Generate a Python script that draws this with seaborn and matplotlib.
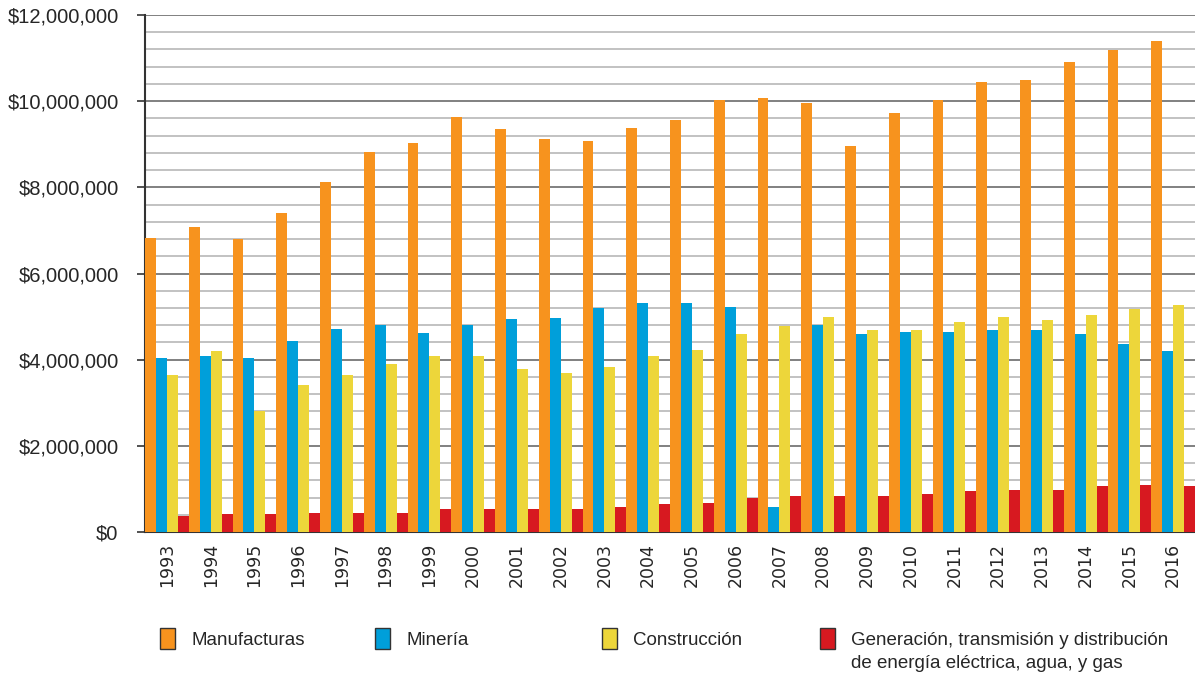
import matplotlib
matplotlib.use("Agg")
import matplotlib.pyplot as plt
import matplotlib.ticker as mticker
from matplotlib.patches import Patch
import seaborn as sns
import pandas as pd

years = [str(y) for y in range(1993, 2017)]
sectors = ["Manufacturas", "Minería", "Construcción",
           "Generación, transmisión y distribución"]
sector_line2 = "de energía eléctrica, agua, y gas"
manufacturas = [6.83, 7.07, 6.79, 7.40, 8.12, 8.82, 9.02, 9.64, 9.35, 9.13, 9.07, 9.37,
                9.56, 10.02, 10.07, 9.95, 8.95, 9.72, 10.02, 10.44, 10.48, 10.90, 11.19, 11.39]
mineria = [4.04, 4.08, 4.04, 4.43, 4.71, 4.81, 4.61, 4.81, 4.94, 4.97, 5.20, 5.31,
           5.31, 5.22, 0.58, 4.81, 4.59, 4.64, 4.64, 4.69, 4.69, 4.59, 4.36, 4.20]
construccion = [3.64, 4.20, 2.82, 3.41, 3.64, 3.90, 4.08, 4.08, 3.78, 3.69, 3.82, 4.08,
                4.22, 4.59, 4.79, 4.99, 4.69, 4.69, 4.87, 4.99, 4.92, 5.03, 5.17, 5.26]
generacion = [0.38, 0.41, 0.41, 0.44, 0.44, 0.44, 0.53, 0.53, 0.53, 0.53, 0.58, 0.65,
              0.68, 0.79, 0.84, 0.84, 0.84, 0.89, 0.95, 0.97, 0.97, 1.07, 1.09, 1.07]
colors = ["#F7931E", "#009FDA", "#EDD63A", "#D71920"]

series = [manufacturas, mineria, construccion, generacion]
rows = []
for s, vals in zip(sectors, series):
    for y, v in zip(years, vals):
        rows.append({"year": y, "sector": s, "value": v * 1e6})
df = pd.DataFrame(rows)

sns.set_theme(style="white")
plt.rcParams["font.family"] = ["Liberation Sans", "DejaVu Sans"]

fig = plt.figure(figsize=(11.95, 6.78), dpi=100)
ax = fig.add_axes([145 / 1195, 1 - 532 / 678, 1 - 145 / 1195, (532 - 15) / 678])

sns.barplot(data=df, x="year", y="value", hue="sector", palette=colors,
            hue_order=sectors, order=years, width=1.0, saturation=1,
            legend=False, ax=ax, zorder=3)
for p in ax.patches:
    p.set_linewidth(0)

ax.set_xlim(-0.5, len(years) - 0.5)
ax.set_ylim(0, 12e6)
ax.yaxis.set_major_locator(mticker.MultipleLocator(2e6))
ax.yaxis.set_minor_locator(mticker.MultipleLocator(4e5))
ax.yaxis.set_major_formatter(mticker.FuncFormatter(lambda v, p: f"${v:,.0f}"))
ax.grid(which="minor", axis="y", color="#bdbdbd", lw=1.3, zorder=0)
ax.grid(which="major", axis="y", color="#808080", lw=1.4, zorder=0)
ax.set_axisbelow(True)

ax.set_xticks(range(len(years)))
ax.set_xticklabels(years, rotation=90, family="DejaVu Sans", fontsize=12.5)
ax.set_xticks([i - 0.5 for i in range(len(years) + 1)], minor=True)
ax.tick_params(axis="x", which="major", length=0, pad=8)
ax.tick_params(axis="x", which="minor", length=11, width=1.2, color="#333333", direction="out")
ax.tick_params(axis="y", which="major", length=6, width=1.2, color="#333333",
               labelsize=14.5, pad=13, left=True)
ax.tick_params(axis="y", which="minor", length=0)

fig.canvas.draw()
ygl = ax.get_ygridlines()
if len(ygl):
    ygl[-1].set_color("#c8c8c8")

ax.set_xlabel("")
ax.set_ylabel("")
for side in ["top", "right"]:
    ax.spines[side].set_visible(False)
for side in ["left", "bottom"]:
    ax.spines[side].set_color("#333333")
    ax.spines[side].set_linewidth(1.5)

legend_x = [152, 367, 594, 812]
for i, (s, c, x) in enumerate(zip(sectors, colors, legend_x)):
    handles = [Patch(facecolor=c, edgecolor="#333333", linewidth=1.0)]
    labels = [s]
    if i == 3:
        handles.append(Patch(facecolor="none", edgecolor="none"))
        labels.append(sector_line2)
    fig.legend(handles, labels, loc="upper left", bbox_to_anchor=(x / 1195, 1 - 620 / 678),
               frameon=False, fontsize=13.5, handlelength=0.8, handleheight=1.4,
               handletextpad=0.9, borderaxespad=0, labelspacing=0.1)

fig.savefig("out.png", dpi=100)
